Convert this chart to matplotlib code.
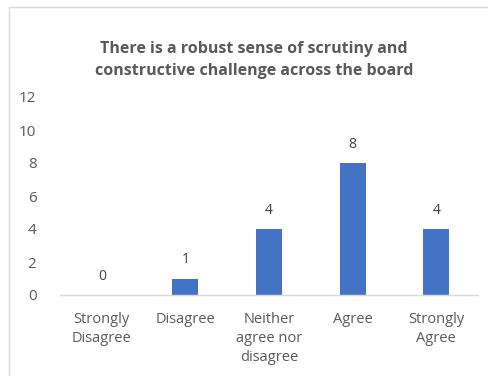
import matplotlib
matplotlib.use("Agg")
import matplotlib.pyplot as plt
from matplotlib.lines import Line2D

categories = ["Strongly\nDisagree", "Disagree", "Neither\nagree nor\ndisagree", "Agree", "Strongly\nAgree"]
counts = [0, 1, 4, 8, 4]
yticks = [0, 2, 4, 6, 8, 10, 12]
title = "There is a robust sense of scrutiny and\nconstructive challenge across the board"

plt.rcParams["font.family"] = ["Open Sans", "DejaVu Sans"]
W, H = 489, 376
fig = plt.figure(figsize=(W / 100, H / 100), dpi=100)
fig.patch.set_facecolor("white")

# chart-area frame (left and top edges visible)
fig.add_artist(Line2D([9 / W, 9 / W], [0, 1 - 7 / H], transform=fig.transFigure, color="#d9d9d9", lw=1))
fig.add_artist(Line2D([9 / W, 1], [1 - 7 / H, 1 - 7 / H], transform=fig.transFigure, color="#d9d9d9", lw=1))

ax = fig.add_axes([60 / W, 1 - 295 / H, 418 / W, 198 / H])
x = range(len(categories))
bars = ax.bar(x, counts, width=0.31, color="#4472c4", zorder=2)
ax.set_xlim(-0.5, len(categories) - 0.5)
ax.set_ylim(0, 12)
ax.set_yticks(yticks)
ax.set_yticklabels([str(t) for t in yticks], fontsize=11, color="#595959")
ax.set_xticks(list(x))
ax.set_xticklabels(categories, fontsize=10.5, color="#595959", linespacing=1.4)
ax.tick_params(axis="both", length=0)
ax.tick_params(axis="y", pad=17)
ax.tick_params(axis="x", pad=12)
for s in ["top", "right", "left"]:
    ax.spines[s].set_visible(False)
ax.spines["bottom"].set_color("#d9d9d9")
ax.spines["bottom"].set_linewidth(1)

for xi, v in zip(x, counts):
    ax.annotate(str(v), (xi, v), xytext=(0, 8), textcoords="offset points",
                ha="center", va="bottom", fontsize=10, color="#404040")

fig.text(254 / W, 1 - 60 / H, title, ha="center", va="center", fontsize=11.5,
         fontweight="bold", color="#595959", linespacing=1.55)

fig.savefig("out.png", dpi=100)
